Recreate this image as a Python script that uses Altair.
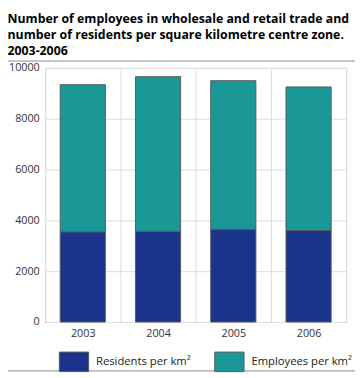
import altair as alt
import pandas as pd

years = ["2003", "2004", "2005", "2006"]
residents = [3550, 3575, 3650, 3600]
employees = [5790, 6080, 5845, 5650]
series_names = ["Residents per km²", "Employees per km²"]
colors = ["#1a348c", "#1a9898"]
y_ticks = [0, 2000, 4000, 6000, 8000, 10000]
title_lines = [
    "Number of employees in wholesale and retail trade and",
    "number of residents per square kilometre centre zone.",
    "2003-2006",
]

rows = []
for i, yr in enumerate(years):
    rows.append({"year": yr, "series": series_names[0], "value": residents[i], "order": 0})
    rows.append({"year": yr, "series": series_names[1], "value": employees[i], "order": 1})
df = pd.DataFrame(rows)

FONT = "Open Sans"
W, H = 308, 260
PL, PT = 38, 57

bars = alt.Chart(df).mark_bar(
    width=alt.RelativeBandSize(0.6), stroke="#5a5a5a", strokeWidth=1
).encode(
    x=alt.X(
        "year:N", title=None,
        scale=alt.Scale(paddingInner=0, paddingOuter=0),
        axis=alt.Axis(tickBand="extent", grid=True, ticks=False, domain=False,
                      labelAngle=0, labelPadding=6),
    ),
    y=alt.Y(
        "value:Q", stack="zero", title=None,
        scale=alt.Scale(domain=[0, 10000], nice=False),
        axis=alt.Axis(values=y_ticks, format="d", grid=True, ticks=False,
                      domain=False, labelPadding=6),
    ),
    color=alt.Color(
        "series:N",
        scale=alt.Scale(domain=series_names, range=colors),
        legend=alt.Legend(
            title=None, orient="none", direction="horizontal",
            legendX=14, legendY=H + 25,
            symbolType="M-1,-0.667H1V0.667H-1Z", symbolSize=900,
            symbolStrokeColor="#5a5a5a", symbolStrokeWidth=1,
            labelFontSize=11.5, labelFont=FONT, labelColor="#222",
            labelOffset=7, columnPadding=22,
        ),
    ),
    order=alt.Order("order:Q"),
)

one = pd.DataFrame({"a": [0]})
top_rule = alt.Chart(one).mark_rule(color="#8a8a8a", strokeWidth=1).encode(
    x=alt.value(-PL), x2=alt.value(W + 9), y=alt.value(-7)
)
bottom_rule = alt.Chart(one).mark_rule(color="#8a8a8a", strokeWidth=1).encode(
    x=alt.value(-PL), x2=alt.value(W + 9), y=alt.value(H + 50)
)

chart = alt.layer(bars, top_rule, bottom_rule).properties(
    width=W, height=H,
    autosize=alt.AutoSizeParams(type="none"),
    padding={"left": PL, "top": PT, "right": 9, "bottom": 52},
    title=alt.TitleParams(
        text=title_lines, anchor="start", frame="bounds",
        font=FONT, fontSize=12.6, fontWeight="bold", color="#000",
        lineHeight=16, offset=4.5, baseline="alphabetic", dy=11,
    ),
).configure_view(
    stroke="#d9d9d9"
).configure_axis(
    gridColor="#dcdcdc", labelFont=FONT, labelFontSize=11, labelColor="#333"
)

chart.save("out.html", embed_options={"renderer": "svg", "actions": False})
